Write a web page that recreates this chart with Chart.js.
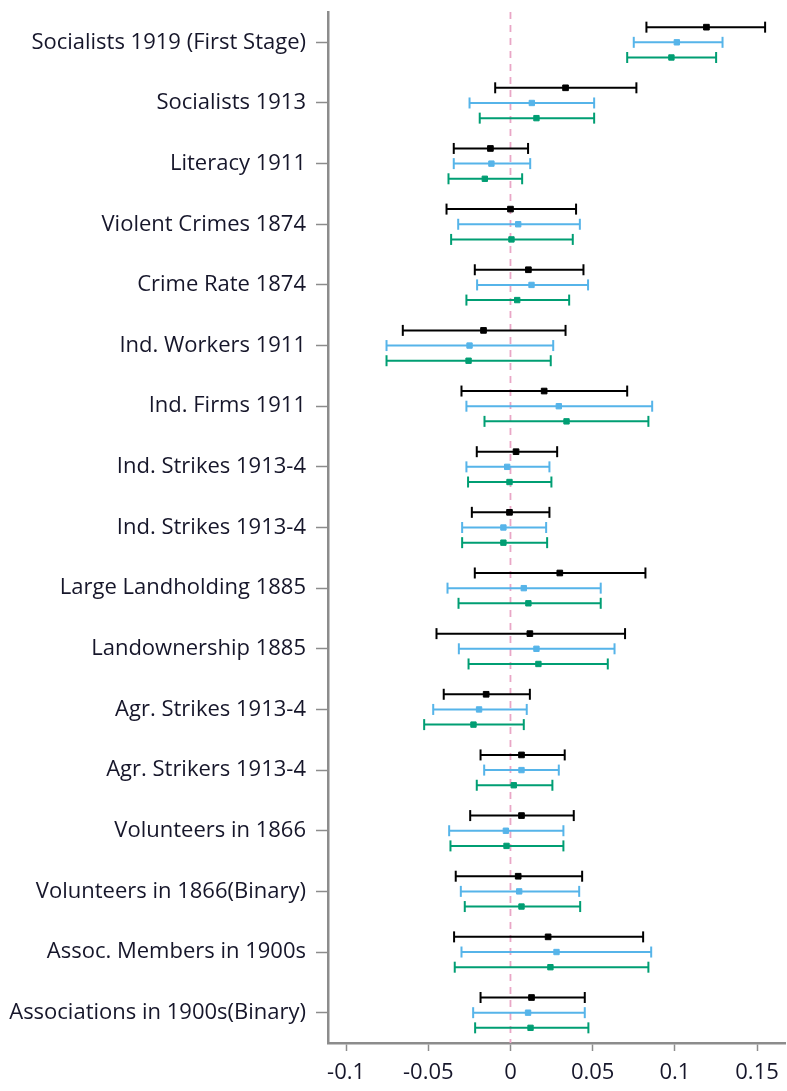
<!DOCTYPE html>
<html>
<head>
<meta charset="utf-8">
<script src="https://cdn.jsdelivr.net/npm/chart.js@4/dist/chart.umd.min.js"></script>
<style>
  html, body { margin: 0; padding: 0; background: #ffffff; overflow: hidden; }
  #wrap { width: 787px; height: 1091px; position: relative; }
</style>
</head>
<body>
<div id="wrap"><canvas id="chart"></canvas></div>
<script>
// Outcome variables, top to bottom
const categories = [
  'Socialists 1919 (First Stage)',
  'Socialists 1913',
  'Literacy 1911',
  'Violent Crimes 1874',
  'Crime Rate 1874',
  'Ind. Workers 1911',
  'Ind. Firms 1911',
  'Ind. Strikes 1913-4',
  'Ind. Strikes 1913-4',
  'Large Landholding 1885',
  'Landownership 1885',
  'Agr. Strikes 1913-4',
  'Agr. Strikers 1913-4',
  'Volunteers in 1866',
  'Volunteers in 1866(Binary)',
  'Assoc. Members in 1900s',
  'Associations in 1900s(Binary)'
];

// Model 1 (black): estimate and confidence bounds
const est1 = [0.1192, 0.0335, -0.0122, 0.0000, 0.0109, -0.0164, 0.0205, 0.0034, -0.0006, 0.0300, 0.0118, -0.0148, 0.0067, 0.0067, 0.0047, 0.0229, 0.0128];
const lo1  = [0.0827, -0.0093, -0.0345, -0.0389, -0.0217, -0.0655, -0.0298, -0.0205, -0.0235, -0.0217, -0.0450, -0.0406, -0.0182, -0.0245, -0.0333, -0.0343, -0.0182];
const hi1  = [0.1549, 0.0766, 0.0107, 0.0399, 0.0444, 0.0335, 0.0710, 0.0284, 0.0237, 0.0821, 0.0697, 0.0118, 0.0330, 0.0385, 0.0436, 0.0807, 0.0452];

// Model 2 (blue)
const est2 = [0.1012, 0.0130, -0.0116, 0.0047, 0.0128, -0.0249, 0.0294, -0.0020, -0.0043, 0.0081, 0.0158, -0.0191, 0.0067, -0.0028, 0.0053, 0.0280, 0.0107];
const lo2  = [0.0750, -0.0249, -0.0345, -0.0318, -0.0203, -0.0754, -0.0268, -0.0268, -0.0294, -0.0383, -0.0314, -0.0470, -0.0160, -0.0373, -0.0302, -0.0298, -0.0227];
const hi2  = [0.1290, 0.0509, 0.0120, 0.0422, 0.0472, 0.0260, 0.0862, 0.0237, 0.0217, 0.0549, 0.0633, 0.0099, 0.0294, 0.0322, 0.0418, 0.0856, 0.0452];

// Model 3 (green)
const est3 = [0.0979, 0.0158, -0.0156, 0.0006, 0.0041, -0.0255, 0.0341, -0.0006, -0.0043, 0.0109, 0.0170, -0.0225, 0.0020, -0.0024, 0.0067, 0.0243, 0.0122];
const lo3  = [0.0710, -0.0187, -0.0377, -0.0361, -0.0268, -0.0754, -0.0158, -0.0258, -0.0294, -0.0316, -0.0255, -0.0525, -0.0205, -0.0365, -0.0278, -0.0339, -0.0215];
const hi3  = [0.1251, 0.0509, 0.0071, 0.0379, 0.0357, 0.0245, 0.0839, 0.0249, 0.0223, 0.0549, 0.0592, 0.0081, 0.0255, 0.0322, 0.0424, 0.0839, 0.0474];

// Horizontal axis tick values
const xTicks = [-0.1, -0.05, 0, 0.05, 0.1, 0.15];

const FONT = '"Open Sans", "Noto Sans", sans-serif';
const AXIS_GREY = '#8c8c8c';
const TEXT = '#16162a';

// Each model sits at its own vertical offset within a category row
const models = [
  { est: est1, lo: lo1, hi: hi1, color: '#000000', shift: -0.25, width: 2, r: 4 },
  { est: est2, lo: lo2, hi: hi2, color: '#56B4E9', shift: 0, width: 2, r: 3.8 },
  { est: est3, lo: lo3, hi: hi3, color: '#009E73', shift: 0.25, width: 2, r: 3.8 }
];

const datasets = [];

// Reference line at zero
datasets.push({
  type: 'line',
  data: [{ x: 0, y: -0.5 }, { x: 0, y: categories.length - 0.5 }],
  borderColor: '#e9a6c6',
  borderWidth: 1.8,
  borderDash: [7, 6],
  pointRadius: 0,
  order: 10
});

models.forEach((m, k) => {
  // Whiskers: one segment per category, broken by empty points, with capped ends
  const seg = [];
  m.est.forEach((_, i) => {
    seg.push({ x: m.lo[i], y: i + m.shift });
    seg.push({ x: m.hi[i], y: i + m.shift });
    seg.push({ x: null, y: null });
  });
  datasets.push({
    type: 'line',
    data: seg,
    borderColor: m.color,
    borderWidth: m.width,
    spanGaps: false,
    pointStyle: 'line',
    rotation: 90,
    pointRadius: 5.5,
    pointBorderColor: m.color,
    pointBorderWidth: m.width,
    pointHoverRadius: 5.5,
    order: 5 - k
  });
  // Point estimates
  datasets.push({
    type: 'scatter',
    data: m.est.map((v, i) => ({ x: v, y: i + m.shift })),
    pointStyle: 'rect',
    pointRadius: m.r,
    backgroundColor: m.color,
    borderColor: m.color,
    borderWidth: 1,
    order: 1
  });
});

new Chart(document.getElementById('chart'), {
  type: 'scatter',
  data: { datasets },
  options: {
    responsive: true,
    maintainAspectRatio: false,
    animation: false,
    layout: { autoPadding: false, padding: { top: 12, right: 2, bottom: 0, left: 0 } },
    plugins: { legend: { display: false }, tooltip: { enabled: false } },
    scales: {
      x: {
        type: 'linear',
        min: -0.111,
        max: 0.167,
        afterBuildTicks: (s) => { s.ticks = xTicks.map(v => ({ value: v })); },
        afterFit: (s) => { s.height = 48; s.paddingLeft = 0; s.paddingRight = 0; },
        ticks: {
          callback: (v) => String(v),
          font: { family: FONT, size: 22 },
          color: TEXT,
          padding: 9
        },
        grid: {
          display: true,
          drawOnChartArea: false,
          drawTicks: true,
          tickLength: 8,
          tickColor: AXIS_GREY,
          tickWidth: 1.5
        },
        border: { display: true, color: AXIS_GREY, width: 2.5 }
      },
      y: {
        type: 'linear',
        reverse: true,
        min: -0.5,
        max: categories.length - 0.5,
        afterBuildTicks: (s) => { s.ticks = categories.map((_, i) => ({ value: i })); },
        afterFit: (s) => { s.width = 328; s.paddingTop = 0; s.paddingBottom = 0; },
        ticks: {
          autoSkip: false,
          callback: (v) => categories[v],
          font: { family: FONT, size: 22 },
          color: TEXT,
          padding: 10
        },
        grid: {
          display: true,
          drawOnChartArea: false,
          drawTicks: true,
          tickLength: 12,
          tickColor: AXIS_GREY,
          tickWidth: 1.5
        },
        border: { display: true, color: AXIS_GREY, width: 2.5 }
      }
    }
  }
});
</script>
</body>
</html>
